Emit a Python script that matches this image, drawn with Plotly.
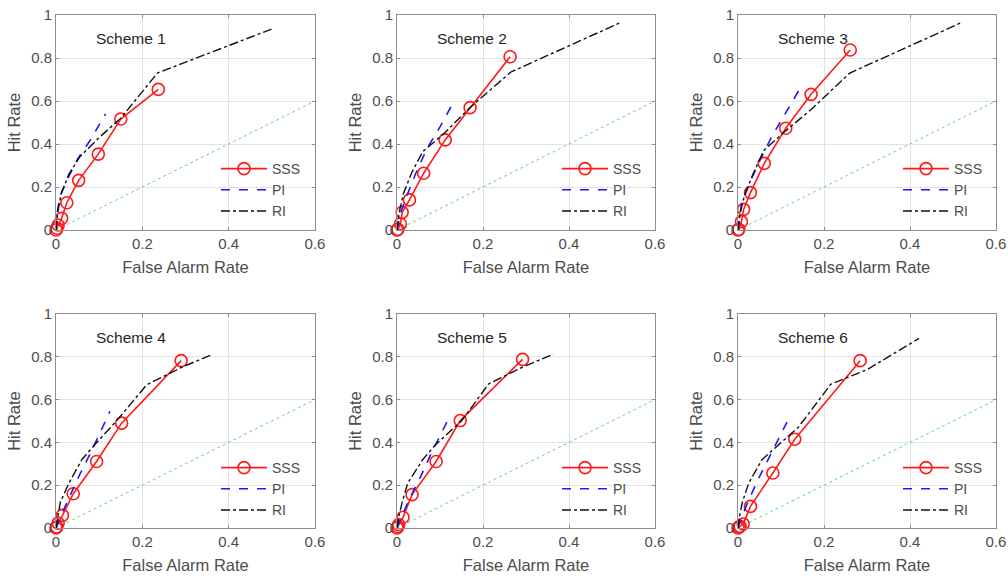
import plotly.graph_objects as go

schemes = ["Scheme 1", "Scheme 2", "Scheme 3", "Scheme 4", "Scheme 5", "Scheme 6"]

sss_far = [
    [0, 0.002, 0.005, 0.013, 0.025, 0.0525, 0.098, 0.150, 0.237],
    [0, 0.002, 0.008, 0.012, 0.029, 0.062, 0.112, 0.170, 0.263],
    [0, 0.002, 0.008, 0.013, 0.029, 0.061, 0.111, 0.170, 0.261],
    [0, 0.0015, 0.005, 0.015, 0.040, 0.094, 0.152, 0.290],
    [0, 0.002, 0.004, 0.014, 0.035, 0.091, 0.147, 0.292],
    [0, 0.002, 0.005, 0.012, 0.029, 0.081, 0.132, 0.284],
]
sss_hit = [
    [0, 0.008, 0.023, 0.054, 0.127, 0.231, 0.353, 0.516, 0.654],
    [0, 0.003, 0.028, 0.082, 0.140, 0.264, 0.419, 0.569, 0.806],
    [0, 0.003, 0.039, 0.096, 0.174, 0.310, 0.473, 0.631, 0.837],
    [0, 0.005, 0.023, 0.059, 0.160, 0.311, 0.490, 0.782],
    [0, 0.006, 0.016, 0.050, 0.156, 0.311, 0.502, 0.788],
    [0, 0.004, 0.008, 0.019, 0.101, 0.257, 0.415, 0.782],
]

pi_far = [
    [0, 0.004, 0.010, 0.025, 0.050, 0.080, 0.115],
    [0, 0.010, 0.025, 0.045, 0.070, 0.100, 0.133],
    [0, 0.008, 0.025, 0.050, 0.080, 0.110, 0.149],
    [0, 0.010, 0.030, 0.055, 0.080, 0.100, 0.125],
    [0, 0.010, 0.030, 0.055, 0.080, 0.100, 0.116],
    [0, 0.010, 0.025, 0.045, 0.065, 0.090, 0.114],
]
pi_hit = [
    [0, 0.10, 0.16, 0.23, 0.33, 0.42, 0.54],
    [0, 0.09, 0.17, 0.27, 0.38, 0.48, 0.60],
    [0, 0.12, 0.21, 0.32, 0.44, 0.54, 0.675],
    [0, 0.05, 0.14, 0.25, 0.35, 0.44, 0.545],
    [0, 0.05, 0.14, 0.24, 0.35, 0.43, 0.495],
    [0, 0.06, 0.13, 0.22, 0.30, 0.40, 0.495],
]

ri_far = [
    [0, 0.004, 0.012, 0.030, 0.055, 0.100, 0.150, 0.235, 0.500],
    [0, 0.005, 0.015, 0.035, 0.060, 0.110, 0.170, 0.265, 0.520],
    [0, 0.005, 0.015, 0.035, 0.060, 0.110, 0.170, 0.260, 0.520],
    [0, 0.005, 0.010, 0.030, 0.060, 0.090, 0.140, 0.210, 0.290, 0.363],
    [0, 0.005, 0.012, 0.025, 0.060, 0.090, 0.150, 0.213, 0.290, 0.364],
    [0, 0.004, 0.010, 0.025, 0.056, 0.090, 0.140, 0.216, 0.300, 0.421],
]
ri_hit = [
    [0, 0.08, 0.17, 0.26, 0.34, 0.43, 0.52, 0.73, 0.935],
    [0, 0.08, 0.17, 0.27, 0.365, 0.45, 0.57, 0.735, 0.965],
    [0, 0.08, 0.16, 0.26, 0.37, 0.46, 0.56, 0.73, 0.965],
    [0, 0.06, 0.12, 0.21, 0.32, 0.39, 0.50, 0.669, 0.75, 0.812],
    [0, 0.06, 0.12, 0.21, 0.32, 0.39, 0.50, 0.673, 0.75, 0.813],
    [0, 0.06, 0.12, 0.21, 0.32, 0.38, 0.47, 0.672, 0.74, 0.886],
]

diag_far = [0, 0.6]
diag_hit = [0, 0.6]

x_ticks = [0, 0.2, 0.4, 0.6]
x_ticklabels = ["0", "0.2", "0.4", "0.6"]
y_ticks = [0, 0.2, 0.4, 0.6, 0.8, 1.0]
y_ticklabels = ["0", "0.2", "0.4", "0.6", "0.8", "1"]

W, H = 1008, 576
col_left = [56, 397, 738]
col_right = [315, 655, 996]
row_top = [15, 314]
row_bot = [230, 528]

FONT = "Arial, Liberation Sans, Helvetica, sans-serif"
TXT = "#4d4d4d"

fig = go.Figure()
layout = dict(
    width=W, height=H, margin=dict(l=0, r=0, t=0, b=0, autoexpand=False),
    paper_bgcolor="white", plot_bgcolor="white",
    font=dict(family=FONT, size=15, color=TXT),
    annotations=[],
)

for i in range(6):
    r, c = divmod(i, 3)
    n = i + 1
    xa = "x" if n == 1 else f"x{n}"
    ya = "y" if n == 1 else f"y{n}"
    lg = "legend" if n == 1 else f"legend{n}"
    fig.add_trace(go.Scatter(x=diag_far, y=diag_hit, mode="lines",
                             line=dict(color="#66dd66", width=1, dash="dot"),
                             showlegend=False, xaxis=xa, yaxis=ya, hoverinfo="skip"))
    fig.add_trace(go.Scatter(x=sss_far[i], y=sss_hit[i], mode="lines+markers", name="SSS",
                             line=dict(color="#ff1a1a", width=1.6),
                             marker=dict(symbol="circle-open", size=12, color="#ff1a1a",
                                         line=dict(width=1.6, color="#ff1a1a")),
                             cliponaxis=False, xaxis=xa, yaxis=ya, legend=lg))
    fig.add_trace(go.Scatter(x=pi_far[i], y=pi_hit[i], mode="lines", name="PI",
                             line=dict(color="#1a1aff", width=1.6, dash="dash"),
                             xaxis=xa, yaxis=ya, legend=lg))
    fig.add_trace(go.Scatter(x=ri_far[i], y=ri_hit[i], mode="lines", name="RI",
                             line=dict(color="#111111", width=1.4, dash="dashdot"),
                             xaxis=xa, yaxis=ya, legend=lg))

    xd = [col_left[c] / W, col_right[c] / W]
    yd = [1 - row_bot[r] / H, 1 - row_top[r] / H]
    axcommon = dict(showline=True, linecolor="#8c8c8c", linewidth=1, mirror="ticks",
                    showgrid=True, gridcolor="#e3e3e3", gridwidth=1, zeroline=False,
                    ticks="inside", ticklen=3, tickcolor="#8c8c8c", automargin=False,
                    ticklabeloverflow="allow",
                    tickfont=dict(size=15, color=TXT))
    layout["xaxis" if n == 1 else f"xaxis{n}"] = dict(
        axcommon, domain=xd, range=[0, 0.6], tickvals=x_ticks, ticktext=x_ticklabels,
        anchor=ya, title=dict(text="False Alarm Rate", font=dict(size=16.5, color=TXT), standoff=10))
    layout["yaxis" if n == 1 else f"yaxis{n}"] = dict(
        axcommon, domain=yd, range=[0, 1], tickvals=y_ticks, ticktext=y_ticklabels,
        anchor=xa, title=dict(text="Hit Rate", font=dict(size=16.5, color=TXT), standoff=6))
    layout[lg] = dict(
        x=(216 + (col_left[c] - 56)) / W, xanchor="left",
        y=1 - (153 + (row_top[r] - 15)) / H, yanchor="top",
        bgcolor="rgba(0,0,0,0)", borderwidth=0,
        font=dict(size=14, color=TXT), tracegroupgap=0, itemwidth=46,
    )
    layout["annotations"].append(dict(
        x=0.174, y=0.89, xref=xa, yref=ya, text=schemes[i], showarrow=False,
        font=dict(size=15.5, color="#262626"), xanchor="center", yanchor="middle"))

fig.update_layout(**layout)
fig.write_html("out.html", config={"displayModeBar": False},
               post_script="document.body.style.margin='0';document.body.style.overflow='hidden';")
